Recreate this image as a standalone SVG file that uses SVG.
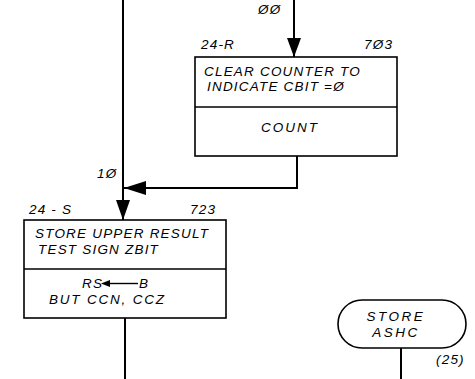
<svg xmlns="http://www.w3.org/2000/svg" width="475" height="379" viewBox="0 0 475 379">
<style>
.ln{stroke:#000;stroke-width:2;fill:none}
.bx{stroke:#000;stroke-width:1.6;fill:#fff}
text{font-family:"Liberation Sans",Arial,sans-serif;font-size:13.5px;font-style:italic;fill:#000;letter-spacing:1.2px}
</style>
<rect width="475" height="379" fill="#fff"/>
<g id="connectors">
<path class="ln" d="M294,0 V57"/>
<path d="M287,38 L301,38 L294,57 Z" fill="#000"/>
<path class="ln" d="M123,0 V220"/>
<path d="M116,200 L130,200 L123,220 Z" fill="#000"/>
<path class="ln" d="M297,156 V188 H124"/>
<path d="M124,188 L146,181 L146,195 Z" fill="#000"/>
<path class="ln" d="M125,318 V379"/>
<path class="ln" d="M401,348 V379"/>
<text x="258" y="14">ØØ</text>
<text x="97" y="178">1Ø</text>
</g>
<g id="node-24R">
<rect class="bx" x="195" y="57" width="202" height="99"/>
<line class="bx" x1="195" y1="107" x2="397" y2="107"/>
<text x="201" y="49">24-R</text>
<text x="364" y="49">7Ø3</text>
<text x="204" y="76">CLEAR COUNTER TO</text>
<text x="207" y="91">INDICATE CBIT =Ø</text>
<text x="261" y="132" style="letter-spacing:2px">COUNT</text>
</g>
<g id="node-24S">
<rect class="bx" x="24" y="220" width="202" height="98"/>
<line class="bx" x1="24" y1="269" x2="226" y2="269"/>
<text x="29" y="214">24 - S</text>
<text x="190" y="214">723</text>
<text x="35" y="238">STORE UPPER RESULT</text>
<text x="38" y="254">TEST SIGN ZBIT</text>
<text x="82" y="288">RS</text>
<path d="M101,283.5 L110,280 L110,287 Z" fill="#000"/>
<line x1="108" y1="283.5" x2="138" y2="283.5" stroke="#000" stroke-width="1.4"/>
<text x="139" y="288">B</text>
<text x="49" y="304" style="letter-spacing:1.8px">BUT CCN, CCZ</text>
</g>
<g id="node-storeashc">
<rect class="bx" x="338" y="300" width="128" height="48" rx="24"/>
<text x="396" y="321" text-anchor="middle" style="letter-spacing:2.5px">STORE</text>
<text x="396" y="337" text-anchor="middle" style="letter-spacing:2.5px">ASHC</text>
<text x="436" y="364" font-size="12">(25)</text>
</g>
</svg>
